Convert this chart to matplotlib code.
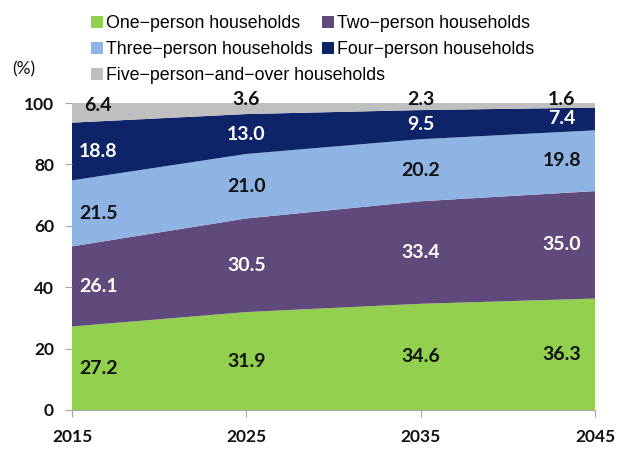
import matplotlib
matplotlib.use("Agg")
import matplotlib.pyplot as plt
from matplotlib.patches import Patch

years = [2015, 2025, 2035, 2045]
one_person = [27.2, 31.9, 34.6, 36.3]
two_person = [26.1, 30.5, 33.4, 35.0]
three_person = [21.5, 21.0, 20.2, 19.8]
four_person = [18.8, 13.0, 9.5, 7.4]
five_plus = [6.4, 3.6, 2.3, 1.6]

series_names = [
    "One\u2212person households",
    "Two\u2212person households",
    "Three\u2212person households",
    "Four\u2212person households",
    "Five\u2212person\u2212and\u2212over households",
]
colors = ["#92D050", "#604A7B", "#8DB4E2", "#0E2468", "#BFBFBF"]
label_colors = ["#111111", "white", "#111111", "white", "#111111"]

num_font = ["Lato", "DejaVu Sans"]
leg_font = ["Liberation Sans", "DejaVu Sans"]

fig = plt.figure(figsize=(6.24, 4.5), dpi=100)
ax = fig.add_axes([0.1154, 0.0889, 0.8381, 0.6822])

series = [one_person, two_person, three_person, four_person, five_plus]
ax.stackplot(years, *series, colors=colors, linewidth=0)

ax.set_xlim(2015, 2045)
ax.set_ylim(0, 100)
ax.set_xticks(years)
ax.set_yticks(range(0, 101, 20))
for lab in ax.get_xticklabels() + ax.get_yticklabels():
    lab.set_fontfamily(num_font)
    lab.set_fontweight("bold")
    lab.set_fontsize(12.5)
ax.tick_params(axis="both", colors="#A6A6A6", labelcolor="#111111", length=5)
ax.tick_params(axis="x", pad=9)
ax.tick_params(axis="y", pad=8)
for side in ["top", "right", "left"]:
    ax.spines[side].set_visible(False)
ax.spines["bottom"].set_color("#A6A6A6")

# data labels
label_x = [2016.5, 2025, 2035, 2043.1]
top_y = [99.2, 101.2, 101.2, 101.2]
bottoms = [0, 0, 0, 0]
for s_idx, vals in enumerate(series):
    for i, v in enumerate(vals):
        if s_idx == 4:
            y = top_y[i]
        else:
            y = bottoms[i] + v / 2
        ax.text(label_x[i], y, f"{v:.1f}", ha="center", va="center",
                fontsize=14, fontweight="bold", family=num_font,
                color=label_colors[s_idx], clip_on=False)
        bottoms[i] += v

fig.text(0.02, 0.835, "(%)", fontsize=12.5, family=num_font, color="#111111")

handles = [Patch(facecolor=c, edgecolor="none") for c in colors]
leg_kw = dict(loc="upper left", frameon=False, handlelength=0.65,
              handleheight=0.65, handletextpad=0.22, labelspacing=0.5,
              borderpad=0, borderaxespad=0,
              prop={"family": leg_font, "size": 12.8})
leg1 = fig.legend([handles[i] for i in (0, 2, 4)],
                  [series_names[i] for i in (0, 2, 4)],
                  bbox_to_anchor=(91 / 624, 0.966), **leg_kw)
leg2 = fig.legend([handles[i] for i in (1, 3)],
                  [series_names[i] for i in (1, 3)],
                  bbox_to_anchor=(322 / 624, 0.966), **leg_kw)

fig.savefig("out.png", dpi=100)
